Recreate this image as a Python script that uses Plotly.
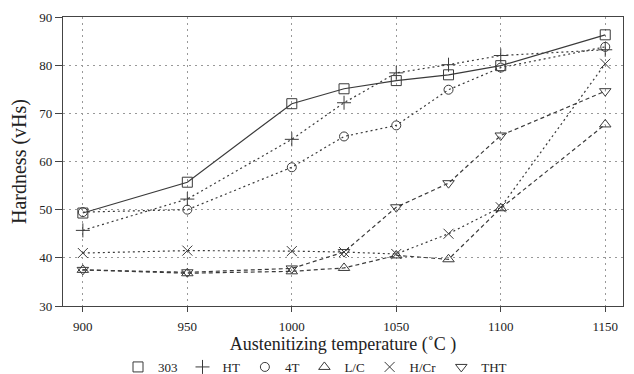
import plotly.graph_objects as go

temps = [900, 950, 1000, 1025, 1050, 1075, 1100, 1150]
s303 = [49.3, 55.7, 72.0, 75.1, 76.8, 78.0, 79.9, 86.3]
sHT = [45.7, 52.2, 64.6, 72.2, 78.4, 80.1, 82.0, 83.2]
s4T = [49.5, 50.0, 58.8, 65.2, 67.5, 74.9, 79.5, 83.8]
sLC = [37.5, 36.8, 37.2, 37.9, 40.5, 39.7, 50.3, 67.7]
sHCr = [41.0, 41.5, 41.4, 41.2, 40.8, 45.0, 50.5, 80.3]
sTHT = [37.5, 37.0, 37.8, 41.2, 50.5, 55.5, 65.4, 74.6]

names = ["303", "HT", "4T", "L/C", "H/Cr", "THT"]
series = [s303, sHT, s4T, sLC, sHCr, sTHT]
symbols = ["square-open", "cross-thin-open", "circle-open", "triangle-up-open", "x-thin-open", "triangle-down-open"]
dashes = ["solid", "2px,3px", "2px,3px", "4px,3px", "2px,3px", "4px,3px"]
sizes = [10, 10, 9, 10, 10, 10]
col = "#3a3a3a"

fig = go.Figure()
for n, s, sym, d, sz in zip(names, series, symbols, dashes, sizes):
    fig.add_trace(go.Scatter(x=temps, y=s, mode="lines+markers", name=n, showlegend=False,
                             line=dict(color=col, width=1.2, dash=d),
                             marker=dict(symbol=sym, size=sz, color=col, line=dict(color=col, width=1))))
for n, sym, sz in zip(names, symbols, sizes):
    fig.add_trace(go.Scatter(x=[None], y=[None], mode="markers", name=n, showlegend=True,
                             marker=dict(symbol=sym, size=sz, color=col, line=dict(color=col, width=1))))

font = "Liberation Serif"
fig.update_layout(
    width=626, height=366,
    margin=dict(l=55, r=11, t=9, b=68, autoexpand=False),
    paper_bgcolor="white", plot_bgcolor="white",
    font=dict(family=font, color="#222", size=13),
    legend=dict(orientation="h", x=0.45, xanchor="center", y=-0.211, yanchor="middle",
                font=dict(size=13, family=font), itemwidth=30, tracegroupgap=0,
                bgcolor="rgba(0,0,0,0)"),
    xaxis=dict(range=[890.5, 1158.5], tickvals=[900, 950, 1000, 1050, 1100, 1150],
               showline=True, linecolor="#444", linewidth=1.2, mirror=True,
               ticks="outside", ticklen=5, tickcolor="#444", ticklabelstandoff=3,
               showgrid=True, gridcolor="#999", griddash="2px,4px", gridwidth=1, zeroline=False,
               title=dict(text="Austenitizing temperature (˚C )", font=dict(size=18, family=font), standoff=0)),
    yaxis=dict(range=[30, 90], tickvals=[30, 40, 50, 60, 70, 80, 90],
               showline=True, linecolor="#444", linewidth=1.2, mirror=True,
               ticks="outside", ticklen=7, tickcolor="#444",
               showgrid=True, gridcolor="#999", griddash="2px,4px", gridwidth=1, zeroline=False,
               title=dict(text="Hardness (vHs)", font=dict(size=20, family=font), standoff=7)),
)
fig.write_html("out.html")
